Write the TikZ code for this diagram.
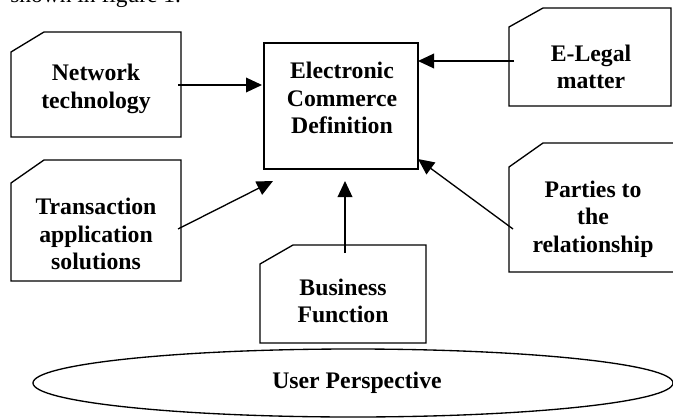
\documentclass[tikz,border=0pt]{standalone}
\usepackage{fontspec}
\setmainfont{Liberation Serif}
\usetikzlibrary{arrows.meta}
\begin{document}
\begin{tikzpicture}[x=0.75pt,y=-0.75pt,
  boxline/.style={line width=1pt,line join=miter},
  lbl/.style={font=\fontsize{17.8}{20.6}\selectfont\bfseries,align=center,inner sep=0pt},
  arr/.style={line width=1pt,-{Triangle[length=12pt,width=11pt]}}]
\useasboundingbox (0,0) rectangle (673,417);
\clip (0,0) rectangle (673,417);
% partially cut caption line at the top
\node[font=\fontsize{17.6}{20.6}\selectfont,anchor=base west,inner sep=0pt] (cap) at (10,3) {shown in figure 1.};
% boxes
\draw[boxline] (11,52) -- (44,32) -- (181,32) -- (181,137) -- (11,137) -- cycle;
\draw[boxline] (264,43) rectangle (418,169);
\draw[boxline] (509,27) -- (543,8) -- (671,8) -- (671,106) -- (509,106) -- cycle;
\draw[boxline] (11,183) -- (44,160) -- (181,160) -- (181,281) -- (11,281) -- cycle;
\draw[boxline] (509,167) -- (543,143) -- (690,143) -- (690,272) -- (509,272) -- cycle;
\draw[boxline] (260,264) -- (293,245) -- (426,245) -- (426,343) -- (260,343) -- cycle;
\draw[boxline] (353,383) ellipse [x radius=320, y radius=34];
% labels
\node[lbl] (net) at (96,89) {Network\\technology};
\node[lbl] (ecd) at (342,98) {Electronic\\Commerce\\Definition};
\node[lbl] (leg) at (591,67) {E-Legal\\matter};
\node[lbl] (tra) at (96,234) {Transaction\\application\\solutions};
\node[lbl] (par) at (593,219) {Parties to\\the\\relationship};
\node[lbl] (bus) at (343,301) {Business\\Function};
\node[lbl] (usr) at (357,383) {User Perspective};
% arrow end points
\coordinate (netA) at (178,85);   \coordinate (netB) at (262,85);
\coordinate (legA) at (514,61);   \coordinate (legB) at (418,61);
\coordinate (traA) at (178,229);  \coordinate (traB) at (273,181);
\coordinate (parA) at (513,229);  \coordinate (parB) at (418,159);
\coordinate (busA) at (345,253);  \coordinate (busB) at (345,181);
\draw[arr] (netA) -- (netB);
\draw[arr] (legA) -- (legB);
\draw[arr] (traA) -- (traB);
\draw[arr] (parA) -- (parB);
\draw[arr] (busA) -- (busB);
\end{tikzpicture}
\end{document}
